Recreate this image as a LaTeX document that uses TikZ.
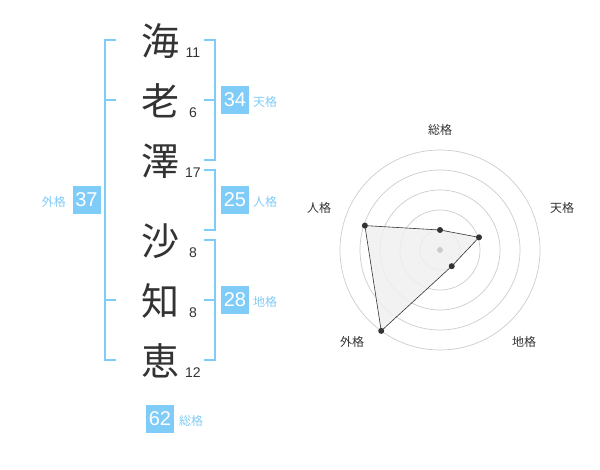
\documentclass[tikz,border=0pt]{standalone}
\usepackage{fontspec}
\newfontfamily\cjk{Noto Sans CJK JP}
\newfontfamily\num{Liberation Sans}
\definecolor{kblue}{RGB}{128,204,248}
\definecolor{ktext}{RGB}{51,51,51}
\definecolor{kgrid}{RGB}{204,204,204}
\definecolor{kfill}{RGB}{240,240,240}
\begin{document}
\begin{tikzpicture}[x=1pt,y=-1pt,
  kanji/.style={font=\cjk\fontsize{38}{38}\selectfont, text=ktext, inner sep=0pt},
  stroke/.style={font=\num\fontsize{14}{14}\selectfont, text=ktext, inner sep=0pt},
  bracket/.style={draw=kblue, line width=2pt},
  valbox/.style={fill=kblue, text=white, minimum width=28pt, minimum height=28pt, inner sep=0pt, font=\num\fontsize{20}{20}\selectfont},
  kaku/.style={text=kblue, font=\cjk\fontsize{12}{12}\selectfont, inner sep=0pt},
  axlabel/.style={text=ktext, font=\cjk\fontsize{12}{12}\selectfont, inner sep=0pt},
  ring/.style={draw=kgrid, line width=0.7pt},
  dot/.style={circle, fill=ktext, minimum size=6pt, inner sep=0pt},
]
\useasboundingbox (0,0) rectangle (600,470);
% kanji
\node[kanji] (k1) at (160,41) {海};
\node[kanji] (k2) at (160,101) {老};
\node[kanji] (k3) at (160,161) {澤};
\node[kanji] (k4) at (160,241) {沙};
\node[kanji] (k5) at (160,301) {知};
\node[kanji] (k6) at (160,361) {恵};
% stroke counts
\node[stroke] (s1) at (193,53) {11};
\node[stroke] (s2) at (193,113) {6};
\node[stroke] (s3) at (193,173) {17};
\node[stroke] (s4) at (193,253) {8};
\node[stroke] (s5) at (193,313) {8};
\node[stroke] (s6) at (193,373) {12};
% brackets
\draw[bracket] (116,40) -- (105,40) -- (105,360) -- (116,360);
\draw[bracket] (105,100) -- (116,100);
\draw[bracket] (105,300) -- (116,300);
\draw[bracket] (204,40) -- (215,40) -- (215,160) -- (204,160);
\draw[bracket] (204,100) -- (215,100);
\draw[bracket] (204,170) -- (215,170) -- (215,230) -- (204,230);
\draw[bracket] (204,240) -- (215,240) -- (215,360) -- (204,360);
\draw[bracket] (204,300) -- (215,300);
% value boxes
\node[valbox] (b34) at (235,100) {34};
\node[kaku, anchor=west] (l34) at (253,102) {天格};
\node[valbox] (b25) at (235,200) {25};
\node[kaku, anchor=west] (l25) at (253,202) {人格};
\node[valbox] (b28) at (235,300) {28};
\node[kaku, anchor=west] (l28) at (253,302) {地格};
\node[valbox] (b37) at (86.5,200) {37};
\node[kaku, anchor=east] (l37) at (66,202) {外格};
\node[valbox] (b62) at (160,419) {62};
\node[kaku, anchor=west] (l62) at (179,421) {総格};
% radar
\begin{scope}[shift={(440,250)}]
  \foreach \r in {20,40,60,80,100} \draw[ring] (0,0) circle[radius=\r];
  \coordinate (pS) at (-90:20);
  \coordinate (pT) at (-18:41);
  \coordinate (pC) at (54:20);
  \coordinate (pG) at (126:100);
  \coordinate (pJ) at (198:79);
  \filldraw[fill=kfill, fill opacity=0.85, draw=ktext, line width=0.6pt] (pS) -- (pT) -- (pC) -- (pG) -- (pJ) -- cycle;
  \node[circle, fill=kgrid, minimum size=6pt, inner sep=0pt] (ctr) at (0,0) {};
  \foreach \p in {pS,pT,pC,pG,pJ} \node[dot] at (\p) {};
\end{scope}
\node[axlabel] (aS) at (440,130) {総格};
\node[axlabel] (aT) at (562,208) {天格};
\node[axlabel] (aC) at (524,342) {地格};
\node[axlabel] (aG) at (352,342) {外格};
\node[axlabel] (aJ) at (319,208) {人格};
\end{tikzpicture}
\end{document}
